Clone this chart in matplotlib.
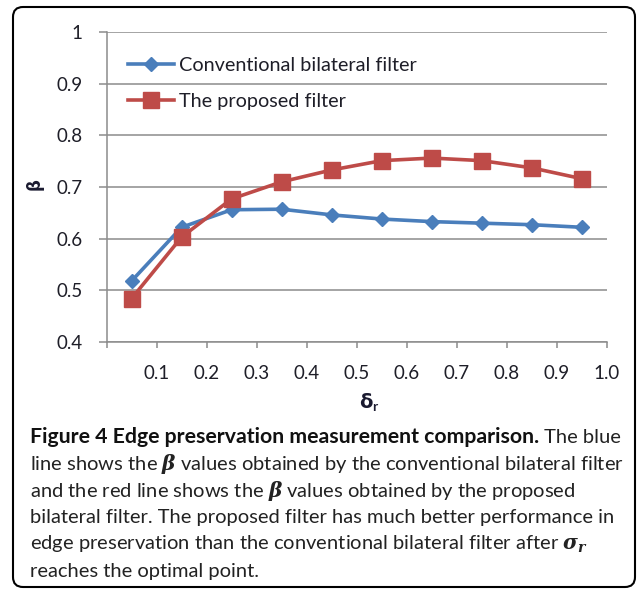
import matplotlib
matplotlib.use("Agg")
import matplotlib.pyplot as plt
from matplotlib.patches import FancyBboxPatch
from matplotlib.transforms import IdentityTransform

# ---- data ----
sigma_r = [0.05, 0.15, 0.25, 0.35, 0.45, 0.55, 0.65, 0.75, 0.85, 0.95]
conventional = [0.518, 0.622, 0.656, 0.657, 0.646, 0.638, 0.633, 0.630, 0.627, 0.622]
proposed = [0.484, 0.603, 0.677, 0.710, 0.733, 0.751, 0.756, 0.751, 0.737, 0.716]
x_ticks = [0.0, 0.1, 0.2, 0.3, 0.4, 0.5, 0.6, 0.7, 0.8, 0.9, 1.0]
x_tick_labels = ["", "0.1", "0.2", "0.3", "0.4", "0.5", "0.6", "0.7", "0.8", "0.9", "1.0"]
y_ticks = [0.4, 0.5, 0.6, 0.7, 0.8, 0.9, 1.0]
y_tick_labels = ["0.4", "0.5", "0.6", "0.7", "0.8", "0.9", "1"]
series_names = ["Conventional bilateral filter", "The proposed filter"]

plt.rcParams['font.family'] = ['Lato', 'DejaVu Sans']
plt.rcParams['mathtext.fontset'] = 'custom'
plt.rcParams['mathtext.rm'] = 'Lato'
plt.rcParams['mathtext.bf'] = 'Lato:bold'
plt.rcParams['mathtext.it'] = 'DejaVu Serif:italic:bold'

W, H = 637, 589
fig = plt.figure(figsize=(W / 100, H / 100), dpi=100)

x0, x1, ytop, ybot = 106.5, 607, 32, 342
ax = fig.add_axes([x0 / W, 1 - ybot / H, (x1 - x0) / W, (ybot - ytop) / H])

blue = "#4A7EBB"
red = "#BE4B48"
grid_c = "#8C8C8C"
text_c = "#1E1E28"

ax.plot(sigma_r, conventional, color=blue, lw=2.6, marker='D', ms=7,
        label=series_names[0], zorder=3, solid_joinstyle='round')
ax.plot(sigma_r, proposed, color=red, lw=2.6, marker='s', ms=11.5,
        label=series_names[1], zorder=4, solid_joinstyle='round')

ax.set_xlim(0, 1.0)
ax.set_ylim(0.4, 1.0)
ax.set_xticks(x_ticks)
ax.set_xticklabels(x_tick_labels)
ax.set_yticks(y_ticks)
ax.set_yticklabels(y_tick_labels)
ax.grid(axis='y', color=grid_c, lw=1.1)
ax.set_axisbelow(True)
for s in ['top', 'right']:
    ax.spines[s].set_visible(False)
for s in ['left', 'bottom']:
    ax.spines[s].set_color(grid_c)
    ax.spines[s].set_linewidth(1.1)
ax.tick_params(axis='x', length=4.5, width=1.1, color=grid_c, pad=12,
               labelsize=13.5, labelcolor=text_c)
ax.tick_params(axis='y', length=6, width=1.1, color=grid_c, pad=11,
               labelsize=13.5, labelcolor=text_c)

ax.set_xlabel("δ$_{\\mathbf{r}}$", fontsize=14, fontweight='bold',
              family=['DejaVu Sans'], color="#1A1A30")
ax.xaxis.set_label_coords((369 - x0) / (x1 - x0), -(391 - ybot) / (ybot - ytop))
ax.set_ylabel("β", fontsize=12, fontweight='bold', family=['DejaVu Sans'],
              color="#1A1A30", rotation=90)
ax.yaxis.set_label_coords(-(x0 - 44) / (x1 - x0), (ybot - 184) / (ybot - ytop))

leg = ax.legend(loc='upper left', bbox_to_anchor=((128 - x0) / (x1 - x0), (ybot - 57) / (ybot - ytop)),
                frameon=False, fontsize=14.3, handlelength=2.3, handletextpad=0.25,
                labelspacing=0.95, borderpad=0, borderaxespad=0)
for t in leg.get_texts():
    t.set_color(text_c)

# ---- border ----
box = FancyBboxPatch((13, 2), 622, 580, boxstyle="round,pad=0,rounding_size=10",
                     transform=IdentityTransform(), fill=False, ec='black', lw=1.5)
fig.patches.append(box)

# ---- caption ----
cap_fs = 14.5
left = 30 / W
baselines = [443, 470, 497, 523, 550, 577]
head = fig.text(left, 1 - baselines[0] / H, "Figure 4 Edge preservation measurement comparison.",
                fontsize=15.3, fontweight='bold', va='baseline', color='#111111')
fig.canvas.draw()
r = fig.canvas.get_renderer()
bb = head.get_window_extent(r)
fig.text(bb.x1 / W, 1 - baselines[0] / H, " The blue", fontsize=cap_fs, va='baseline', color='#222222')
lines = [
    "line shows the $\\beta$ values obtained by the conventional bilateral filter",
    "and the red line shows the $\\beta$ values obtained by the proposed",
    "bilateral filter. The proposed filter has much better performance in",
    "edge preservation than the conventional bilateral filter after $\\sigma_r$",
    "reaches the optimal point.",
]
for i, ln in enumerate(lines):
    fig.text(left, 1 - baselines[i + 1] / H, ln, fontsize=cap_fs, va='baseline', color='#222222')

fig.savefig("out.png", dpi=100)
